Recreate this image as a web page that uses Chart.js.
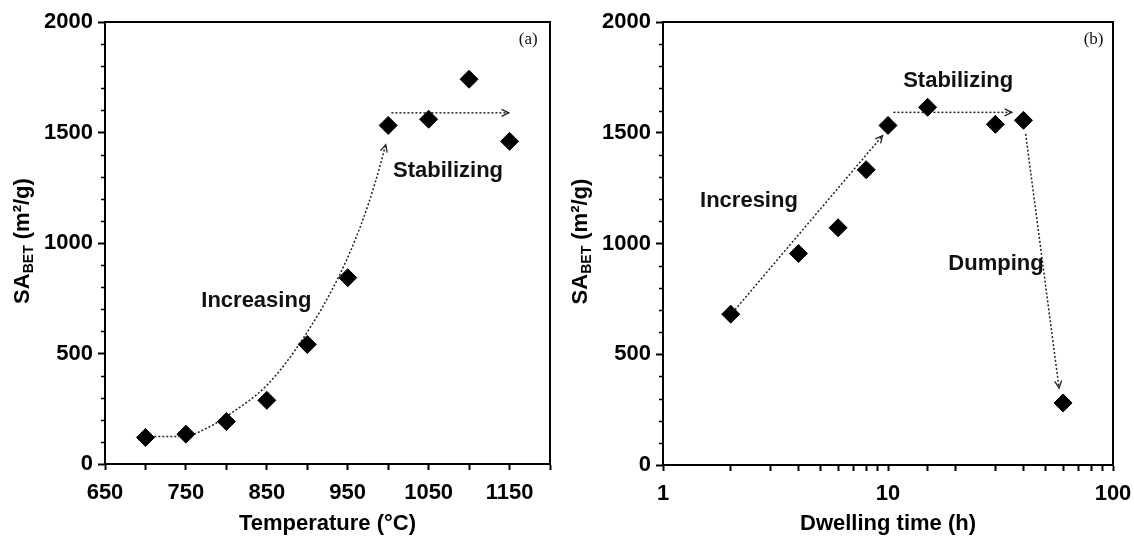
<!DOCTYPE html>
<html><head><meta charset="utf-8">
<script src="https://cdn.jsdelivr.net/npm/chart.js@4.4.1/dist/chart.umd.min.js"></script>
<style>
html,body{margin:0;padding:0;background:#fff;}
#wrap{position:relative;width:1134px;height:537px;overflow:hidden;background:#fff;}
canvas{position:absolute;top:0;}
</style></head><body>
<div id="wrap">
<canvas id="ca" width="560" height="537" style="left:0"></canvas>
<canvas id="cb" width="574" height="537" style="left:560px"></canvas>
</div>
<script>
// ---- data (a): temperature series ----
const tempC   = [700, 750, 800, 850, 900, 950, 1000, 1050, 1100, 1150];
const saTemp  = [120, 135, 192, 288, 541, 843, 1532, 1560, 1741, 1460];
const tempTickLabels = [650, 750, 850, 950, 1050, 1150];
// annotation arrows (a)
const riseAX = [706, 748, 780, 802, 851, 895, 940, 967, 984, 997];
const riseAY = [124, 126, 170, 220, 360, 569, 856, 1088, 1274, 1445];
const stabAX = [1004, 1149];
const stabAY = [1589, 1589];

// ---- data (b): dwelling time series ----
const dwellH  = [2, 4, 6, 8, 10, 15, 30, 40, 60];
const saDwell = [681, 955, 1071, 1333, 1533, 1615, 1538, 1556, 280];
const dwellTickLabels = [1, 10, 100];
// annotation arrows (b)
const riseBX = [2.09, 9.46];
const riseBY = [701, 1487];
const stabBX = [10.57, 35.5];
const stabBY = [1592, 1592];
const dumpBX = [40.9, 57.6];
const dumpBY = [1495, 347];

const yTickLabels = [0, 500, 1000, 1500, 2000];
const yTicksMajor = 500, yTicksMinor = 100;

const FONT = '"Liberation Sans", Arial, Helvetica, sans-serif';
const SERIF = '"Liberation Serif", "Times New Roman", serif';
Chart.defaults.font.family = FONT;

const pts = (xs, ys) => xs.map((x, i) => ({x, y: ys[i]}));

const frameAndTicks = {
  id: 'frameAndTicks',
  afterDraw(chart) {
    const {ctx, chartArea: a} = chart;
    const y = chart.scales.y;
    ctx.save();
    ctx.strokeStyle = '#000';
    ctx.lineWidth = 2;
    ctx.beginPath();
    ctx.moveTo(a.left, a.top); ctx.lineTo(a.right, a.top); ctx.lineTo(a.right, a.bottom);
    ctx.stroke();
    ctx.lineWidth = 1.6;
    ctx.beginPath();
    for (let v = yTicksMinor; v < y.max; v += yTicksMinor) {
      if (v % yTicksMajor === 0) continue;
      const p = Math.round(y.getPixelForValue(v)) + 0.5;
      ctx.moveTo(a.left - 4, p); ctx.lineTo(a.left, p);
    }
    ctx.stroke();
    ctx.restore();
  }
};

const yTitle = {
  id: 'yTitle',
  afterDraw(chart, args, o) {
    const {ctx, chartArea: a} = chart;
    const cy = (a.top + a.bottom) / 2 - 2;
    const cx = o.x;
    const big = 'bold 22px ' + FONT, small = 'bold 14px ' + FONT;
    ctx.save();
    ctx.translate(cx, cy);
    ctx.rotate(-Math.PI / 2);
    ctx.fillStyle = '#000';
    ctx.textBaseline = 'alphabetic';
    ctx.textAlign = 'left';
    const parts = [['SA', big, 0], ['BET', small, 4], [' (m²/g)', big, 0]];
    let total = 0;
    parts.forEach(p => { ctx.font = p[1]; total += ctx.measureText(p[0]).width; });
    let x = -total / 2;
    parts.forEach(p => { ctx.font = p[1]; ctx.fillText(p[0], x, 8 + p[2]); x += ctx.measureText(p[0]).width; });
    ctx.restore();
  }
};

const notes = {
  id: 'notes',
  afterDraw(chart, args, o) {
    const {ctx} = chart;
    const xs = chart.scales.x, ys = chart.scales.y;
    ctx.save();
    ctx.fillStyle = '#111';
    ctx.textAlign = 'center';
    ctx.textBaseline = 'middle';
    (o.items || []).forEach(n => {
      ctx.font = n.serif ? ('17px ' + SERIF) : ('bold 22px ' + FONT);
      ctx.fillText(n.text, xs.getPixelForValue(n.x), ys.getPixelForValue(n.y));
    });
    ctx.restore();
  }
};

const arrowHeads = {
  id: 'arrowHeads',
  afterDatasetsDraw(chart) {
    const {ctx} = chart;
    chart.data.datasets.forEach((ds, i) => {
      if (!ds.arrowHead) return;
      const d = chart.getDatasetMeta(i).data;
      const e = d[d.length - 1];
      let px = d[d.length - 2].x, py = d[d.length - 2].y;
      if (e.cp1x !== undefined && (Math.abs(e.cp1x - e.x) + Math.abs(e.cp1y - e.y)) > 1) { px = e.cp1x; py = e.cp1y; }
      const ang = Math.atan2(e.y - py, e.x - px);
      const L = 8, w = 0.45;
      ctx.save();
      ctx.strokeStyle = '#222';
      ctx.lineWidth = 1.3;
      ctx.beginPath();
      ctx.moveTo(e.x - L * Math.cos(ang - w), e.y - L * Math.sin(ang - w));
      ctx.lineTo(e.x, e.y);
      ctx.lineTo(e.x - L * Math.cos(ang + w), e.y - L * Math.sin(ang + w));
      ctx.stroke();
      ctx.restore();
    });
  }
};

const tickFont = {family: FONT, size: 22, weight: 'bold'};

function arrowSet(xs, ys, curved) {
  return {
    data: pts(xs, ys), showLine: true, pointRadius: 0, borderColor: '#222', borderWidth: 1.5,
    borderDash: [2, 2], tension: curved ? 0.4 : 0, cubicInterpolationMode: curved ? 'monotone' : 'default',
    arrowHead: true, fill: false
  };
}

function yScale(w) {
  return {
    min: 0, max: 2000,
    afterFit(s) { s.width = w; s.paddingTop = 0; s.paddingBottom = 0; },
    border: {display: true, color: '#000', width: 2},
    grid: {drawOnChartArea: false, drawTicks: true, tickLength: 7, tickWidth: 2, tickColor: '#000'},
    ticks: {stepSize: yTicksMajor, padding: 5, color: '#000', font: tickFont,
      callback: v => yTickLabels.includes(v) ? String(v) : ''}
  };
}

function makeChart(id, xScale, yW, datasets, noteItems, titleX, pad) {
  return new Chart(document.getElementById(id), {
    type: 'scatter',
    data: {datasets},
    options: {
      responsive: false, animation: false,
      layout: {padding: pad},
      plugins: {legend: {display: false}, tooltip: {enabled: false},
        notes: {items: noteItems}, yTitle: {x: titleX}},
      scales: {x: xScale, y: yScale(yW)}
    },
    plugins: [frameAndTicks, yTitle, notes, arrowHeads]
  });
}

const diamond = (xs, ys) => ({
  data: pts(xs, ys), pointStyle: 'rectRot', pointRadius: 9, pointBackgroundColor: '#000',
  pointBorderColor: '#000', pointBorderWidth: 1, showLine: false
});

makeChart('ca', {
    type: 'linear', min: 650, max: 1200,
    afterFit(s) { s.height = 73; s.paddingLeft = 0; s.paddingRight = 0; },
    border: {display: true, color: '#000', width: 2},
    grid: {drawOnChartArea: false, drawTicks: true, tickLength: 6, tickWidth: 2, tickColor: '#000'},
    ticks: {stepSize: 50, autoSkip: false, maxRotation: 0, padding: 10, color: '#000', font: tickFont,
      callback: v => tempTickLabels.includes(v) ? String(v) : ''},
    title: {display: true, text: 'Temperature (°C)', color: '#000', font: tickFont, padding: {top: 0, bottom: 0}}
  }, 105,
  [diamond(tempC, saTemp), arrowSet(riseAX, riseAY, true), arrowSet(stabAX, stabAY, false)],
  [{text: 'Increasing', x: 837, y: 740}, {text: 'Stabilizing', x: 1074, y: 1326}, {text: '(a)', x: 1173, y: 1919, serif: true}],
  21, {left: 0, right: 8, top: 22, bottom: 0});

makeChart('cb', {
    type: 'logarithmic', min: 1, max: 100,
    afterFit(s) { s.height = 72; s.paddingLeft = 0; s.paddingRight = 0; },
    border: {display: true, color: '#000', width: 2},
    grid: {drawOnChartArea: false, drawTicks: true, tickLength: 6, tickWidth: 2, tickColor: '#000'},
    ticks: {autoSkip: false, maxRotation: 0, padding: 10, color: '#000', font: tickFont,
      callback: v => dwellTickLabels.includes(v) ? String(v) : ''},
    title: {display: true, text: 'Dwelling time (h)', color: '#000', font: tickFont, padding: {top: 0, bottom: 0}}
  }, 103,
  [diamond(dwellH, saDwell), arrowSet(riseBX, riseBY, false), arrowSet(stabBX, stabBY, false), arrowSet(dumpBX, dumpBY, false)],
  [{text: 'Stabilizing', x: 20.5, y: 1734}, {text: 'Incresing', x: 2.41, y: 1194}, {text: 'Dumping', x: 30.2, y: 909}, {text: '(b)', x: 82, y: 1919, serif: true}],
  19, {left: 0, right: 21, top: 22, bottom: 0});
</script>
</body></html>
